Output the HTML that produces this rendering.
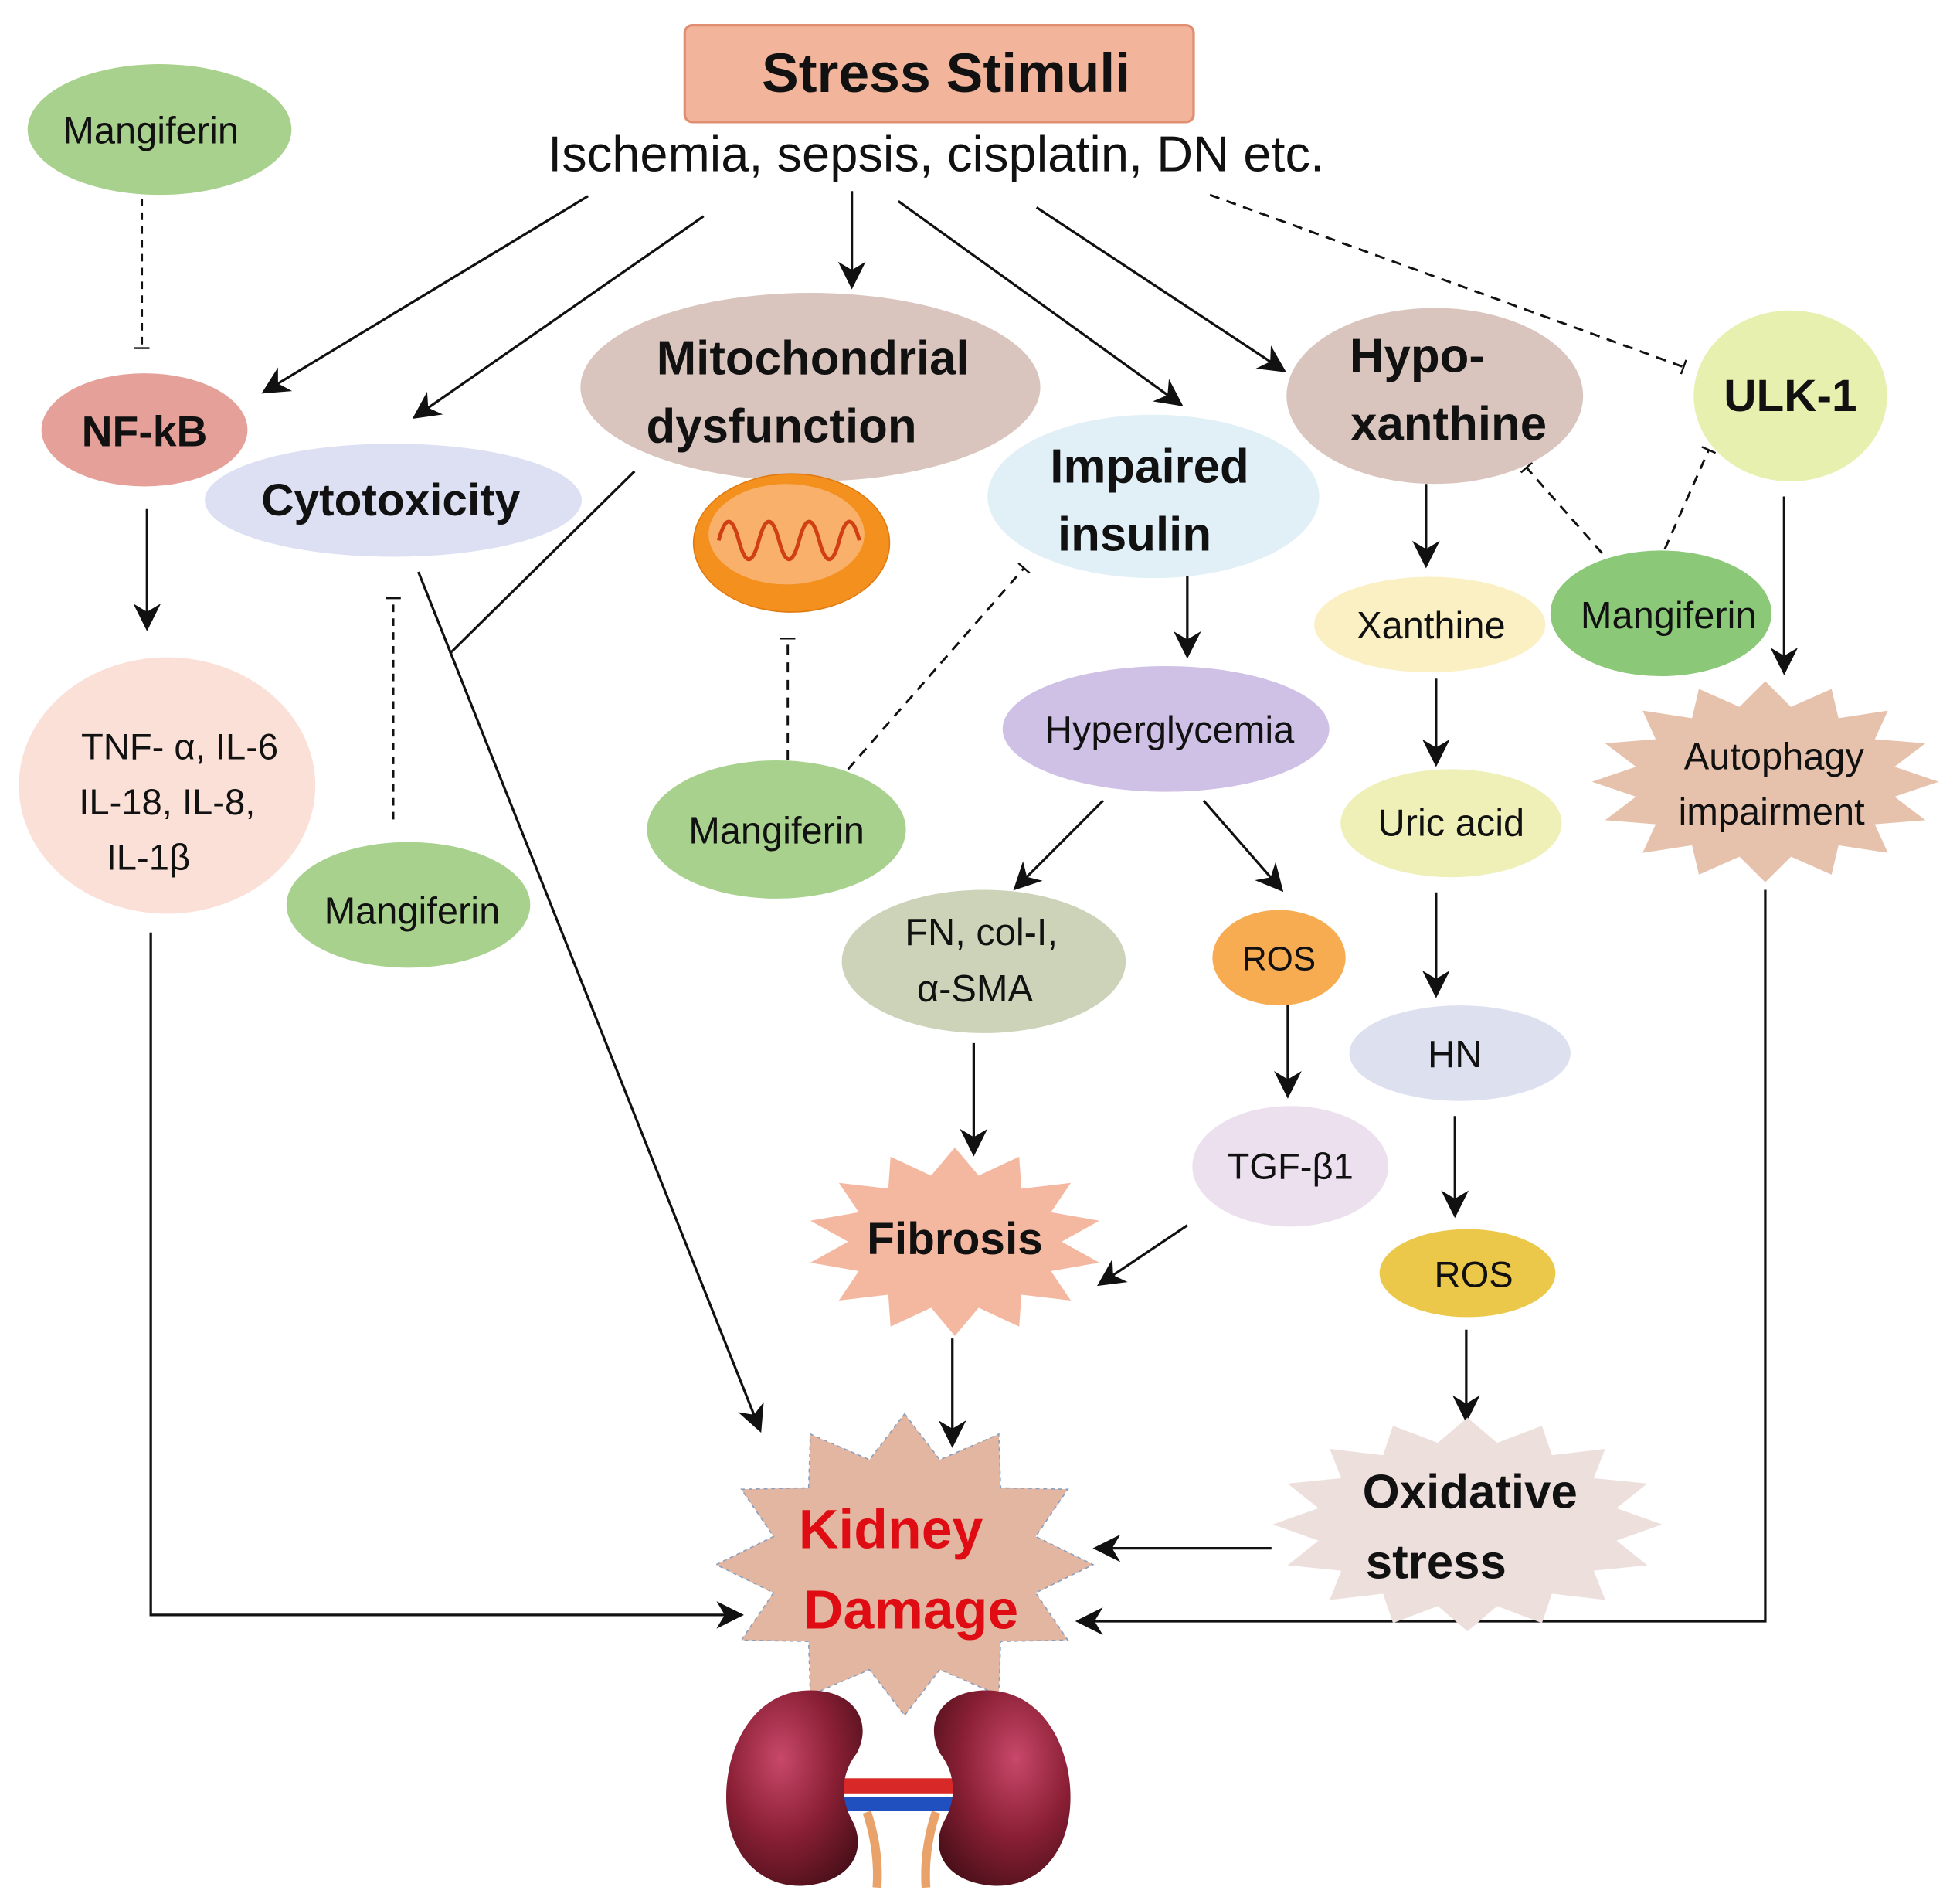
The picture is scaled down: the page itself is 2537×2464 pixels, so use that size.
<!DOCTYPE html>
<html><head><meta charset="utf-8"><style>
html,body{margin:0;padding:0;background:#fff;}
svg{display:block;}
text{font-family:"Liberation Sans","DejaVu Sans",sans-serif;fill:#111;}
.b{font-weight:bold;}
</style></head><body>
<svg id="s" width="2537" height="2464" viewBox="0 0 1560 1515" xmlns="http://www.w3.org/2000/svg">
<defs>
<marker id="A" viewBox="0 0 10 10" refX="9" refY="5" markerWidth="22" markerHeight="22" orient="auto" markerUnits="userSpaceOnUse"><path d="M0,0 L10,5 L0,10 L3,5z" fill="#111"/></marker>
<marker id="t" viewBox="0 0 4 12" refX="2" refY="6" markerWidth="4" markerHeight="12" orient="auto" markerUnits="userSpaceOnUse"><path d="M2,0 V12" stroke="#111" stroke-width="1.5"/></marker>
<radialGradient id="kg" cx="0.6" cy="0.35" r="0.8"><stop offset="0" stop-color="#c8486a"/><stop offset="0.5" stop-color="#8a1f35"/><stop offset="1" stop-color="#3e0d14"/></radialGradient>
<radialGradient id="kg2" cx="0.4" cy="0.35" r="0.8"><stop offset="0" stop-color="#c8486a"/><stop offset="0.5" stop-color="#8a1f35"/><stop offset="1" stop-color="#3e0d14"/></radialGradient>
</defs>
<g stroke="#111" stroke-width="2" fill="none" id="lines">
<line x1="468" y1="156" x2="210" y2="312" marker-end="url(#A)"/>
<line x1="560" y1="172" x2="330" y2="332" marker-end="url(#A)"/>
<line x1="678" y1="152" x2="678" y2="228" marker-end="url(#A)"/>
<line x1="715" y1="160" x2="940" y2="322" marker-end="url(#A)"/>
<line x1="825" y1="165" x2="1022" y2="295" marker-end="url(#A)"/>
<line x1="963" y1="155" x2="1340" y2="292" stroke-dasharray="8,6" stroke-width="1.8" marker-end="url(#t)"/>
<line x1="113" y1="158" x2="113" y2="277" stroke-dasharray="6,5" stroke-width="1.6" marker-end="url(#t)"/>
<line x1="117" y1="405" x2="117" y2="500" marker-end="url(#A)"/>
<polyline points="120,742 120,1285 590,1285" marker-end="url(#A)"/>
<line x1="313" y1="652" x2="313" y2="476" stroke-dasharray="6,5" stroke-width="1.8" marker-end="url(#t)"/>
<line x1="333" y1="455" x2="605" y2="1138" marker-end="url(#A)"/>
<line x1="505" y1="375" x2="358" y2="520"/>
<line x1="627" y1="605" x2="627" y2="508" stroke-dasharray="8,6" stroke-width="1.8" marker-end="url(#t)"/>
<line x1="675" y1="612" x2="815" y2="452" stroke-dasharray="8,6" stroke-width="1.8" marker-end="url(#t)"/>
<line x1="945" y1="455" x2="945" y2="522" marker-end="url(#A)"/>
<line x1="878" y1="637" x2="808" y2="707" marker-end="url(#A)"/>
<line x1="958" y1="637" x2="1020" y2="708" marker-end="url(#A)"/>
<line x1="1025" y1="798" x2="1025" y2="872" marker-end="url(#A)"/>
<line x1="945" y1="975" x2="875" y2="1022" marker-end="url(#A)"/>
<line x1="775" y1="830" x2="775" y2="918" marker-end="url(#A)"/>
<line x1="758" y1="1065" x2="758" y2="1150" marker-end="url(#A)"/>
<line x1="1135" y1="385" x2="1135" y2="450" marker-end="url(#A)"/>
<line x1="1275" y1="440" x2="1215" y2="372" stroke-dasharray="8,6" stroke-width="1.8" marker-end="url(#t)"/>
<line x1="1325" y1="437" x2="1360" y2="358" stroke-dasharray="8,6" stroke-width="1.8" marker-end="url(#t)"/>
<line x1="1420" y1="395" x2="1420" y2="535" marker-end="url(#A)"/>
<line x1="1143" y1="540" x2="1143" y2="608" marker-end="url(#A)"/>
<line x1="1143" y1="710" x2="1143" y2="792" marker-end="url(#A)"/>
<line x1="1158" y1="888" x2="1158" y2="967" marker-end="url(#A)"/>
<line x1="1167" y1="1058" x2="1167" y2="1130" marker-end="url(#A)"/>
<line x1="1012" y1="1232" x2="872" y2="1232" marker-end="url(#A)"/>
<polyline points="1405,708 1405,1290 858,1290" marker-end="url(#A)"/>
</g>

<rect x="545" y="20" width="405" height="77" rx="6" fill="#f2b49b" stroke="#e08e72" stroke-width="2"/>
<text x="753" y="73" text-anchor="middle" class="b" font-size="44">Stress Stimuli</text>
<text x="745" y="136" text-anchor="middle" font-size="40">Ischemia, sepsis, cisplatin, DN etc.</text>

<ellipse cx="127" cy="103" rx="105" ry="52" fill="#a9d18e"/>
<text x="120" y="114" text-anchor="middle" font-size="30">Mangiferin</text>

<ellipse cx="115" cy="342" rx="82" ry="45" fill="#e6a09a"/>
<text x="115" y="355" text-anchor="middle" class="b" font-size="34">NF-kB</text>

<ellipse cx="313" cy="398" rx="150" ry="45" fill="#dde0f3"/>
<text x="311" y="410" text-anchor="middle" class="b" font-size="36">Cytotoxicity</text>

<ellipse cx="645" cy="308" rx="183" ry="75" fill="#d9c5bd"/>
<text x="647" y="298" text-anchor="middle" class="b" font-size="38">Mitochondrial</text>
<text x="622" y="352" text-anchor="middle" class="b" font-size="38">dysfunction</text>

<g>
<ellipse cx="630" cy="432" rx="78" ry="55" fill="#f4901e" stroke="#e07a10"/>
<ellipse cx="626" cy="425" rx="62" ry="40" fill="#f9b06a"/>
<path d="M572,430 q8,-30 16,0 q8,30 16,0 q8,-30 16,0 q8,30 16,0 q8,-30 16,0 q8,30 16,0 q8,-30 16,0" stroke="#d04010" stroke-width="3" fill="none"/>
</g>

<ellipse cx="918" cy="395" rx="132" ry="65" fill="#e1f0f7"/>
<text x="915" y="384" text-anchor="middle" class="b" font-size="38">Impaired</text>
<text x="903" y="438" text-anchor="middle" class="b" font-size="38">insulin</text>

<ellipse cx="1142" cy="315" rx="118" ry="70" fill="#d9c5bd"/>
<text x="1128" y="296" text-anchor="middle" class="b" font-size="38">Hypo-</text>
<text x="1153" y="350" text-anchor="middle" class="b" font-size="38">xanthine</text>

<ellipse cx="1425" cy="315" rx="77" ry="68" fill="#e8f0b0"/>
<text x="1425" y="327" text-anchor="middle" class="b" font-size="36">ULK-1</text>

<ellipse cx="133" cy="625" rx="118" ry="102" fill="#fbe0d8"/>
<text x="143" y="604" text-anchor="middle" font-size="29">TNF- α, IL-6</text>
<text x="133" y="648" text-anchor="middle" font-size="29">IL-18, IL-8,</text>
<text x="118" y="692" text-anchor="middle" font-size="29">IL-1β</text>

<ellipse cx="325" cy="720" rx="97" ry="50" fill="#a9d18e"/>
<text x="328" y="735" text-anchor="middle" font-size="30">Mangiferin</text>

<ellipse cx="618" cy="660" rx="103" ry="55" fill="#a9d18e"/>
<text x="618" y="671" text-anchor="middle" font-size="30">Mangiferin</text>

<ellipse cx="928" cy="580" rx="130" ry="50" fill="#cfc0e6"/>
<text x="931" y="591" text-anchor="middle" font-size="30">Hyperglycemia</text>

<ellipse cx="783" cy="765" rx="113" ry="57" fill="#ccd3b8"/>
<text x="781" y="752" text-anchor="middle" font-size="30">FN, col-I,</text>
<text x="776" y="797" text-anchor="middle" font-size="30">α-SMA</text>

<ellipse cx="1018" cy="762" rx="53" ry="38" fill="#f8ac52"/>
<text x="1018" y="772" text-anchor="middle" font-size="27">ROS</text>

<ellipse cx="1027" cy="928" rx="78" ry="48" fill="#ece0ef"/>
<text x="1027" y="938" text-anchor="middle" font-size="29">TGF-β1</text>

<ellipse cx="1138" cy="497" rx="92" ry="38" fill="#fbefc4"/>
<text x="1139" y="508" text-anchor="middle" font-size="30">Xanthine</text>

<ellipse cx="1322" cy="488" rx="88" ry="50" fill="#8bc878"/>
<text x="1328" y="500" text-anchor="middle" font-size="30">Mangiferin</text>

<ellipse cx="1155" cy="655" rx="88" ry="43" fill="#eef0b8"/>
<text x="1155" y="665" text-anchor="middle" font-size="30">Uric acid</text>

<ellipse cx="1162" cy="838" rx="88" ry="38" fill="#dde1ef"/>
<text x="1158" y="849" text-anchor="middle" font-size="30">HN</text>

<ellipse cx="1168" cy="1013" rx="70" ry="35" fill="#ecc84a"/>
<text x="1173" y="1024" text-anchor="middle" font-size="29">ROS</text>

<g id="stars"></g>

<text x="760" y="998" text-anchor="middle" class="b" font-size="36">Fibrosis</text>
<text x="1412" y="612" text-anchor="middle" font-size="30">Autophagy</text>
<text x="1410" y="656" text-anchor="middle" font-size="30">impairment</text>
<text x="1170" y="1200" text-anchor="middle" class="b" font-size="38">Oxidative</text>
<text x="1143" y="1256" text-anchor="middle" class="b" font-size="38">stress</text>
<text x="709" y="1232" text-anchor="middle" class="b" font-size="44" style="fill:#e00c14">Kidney</text>
<text x="725" y="1296" text-anchor="middle" class="b" font-size="44" style="fill:#e00c14">Damage</text>

<g>
<rect x="670" y="1415" width="95" height="12" fill="#d82828"/>
<rect x="670" y="1430" width="95" height="11" fill="#2050c0"/>
<path d="M690,1442 q10,30 8,60 M745,1442 q-10,30 -8,60" stroke="#e8a26a" stroke-width="7" fill="none"/>
<path d="M645,1345 C600,1345 578,1390 578,1430 C578,1480 610,1505 645,1500 C680,1495 690,1470 678,1448 C668,1430 670,1410 682,1395 C695,1370 680,1345 645,1345Z" fill="url(#kg2)"/>
<path d="M785,1345 C830,1345 852,1390 852,1430 C852,1480 820,1505 785,1500 C750,1495 740,1470 752,1448 C762,1430 760,1410 748,1395 C735,1370 750,1345 785,1345Z" fill="url(#kg)"/>
</g>
</svg>
<script>
function star(cx,cy,rx,ry,n,inner,fill,stroke){
 var p=[];for(var i=0;i<2*n;i++){var a=Math.PI*i/n-Math.PI/2;var r=(i%2==0)?1:inner;p.push((cx+rx*r*Math.cos(a)).toFixed(1)+","+(cy+ry*r*Math.sin(a)).toFixed(1));}
 var e=document.createElementNS("http://www.w3.org/2000/svg","polygon");
 e.setAttribute("points",p.join(" "));e.setAttribute("fill",fill);
 if(stroke){e.setAttribute("stroke",stroke);e.setAttribute("stroke-dasharray","3,3");}
 document.getElementById("stars").appendChild(e);
}
star(760,988,118,75,14,0.72,"#f4b8a0");
star(1405,622,138,80,16,0.76,"#e6c2ad");
star(1168,1213,155,85,16,0.78,"#ede0dc");
star(720,1245,150,120,12,0.72,"#e2b6a0","#8aa0c0");
</script>
</body></html>
